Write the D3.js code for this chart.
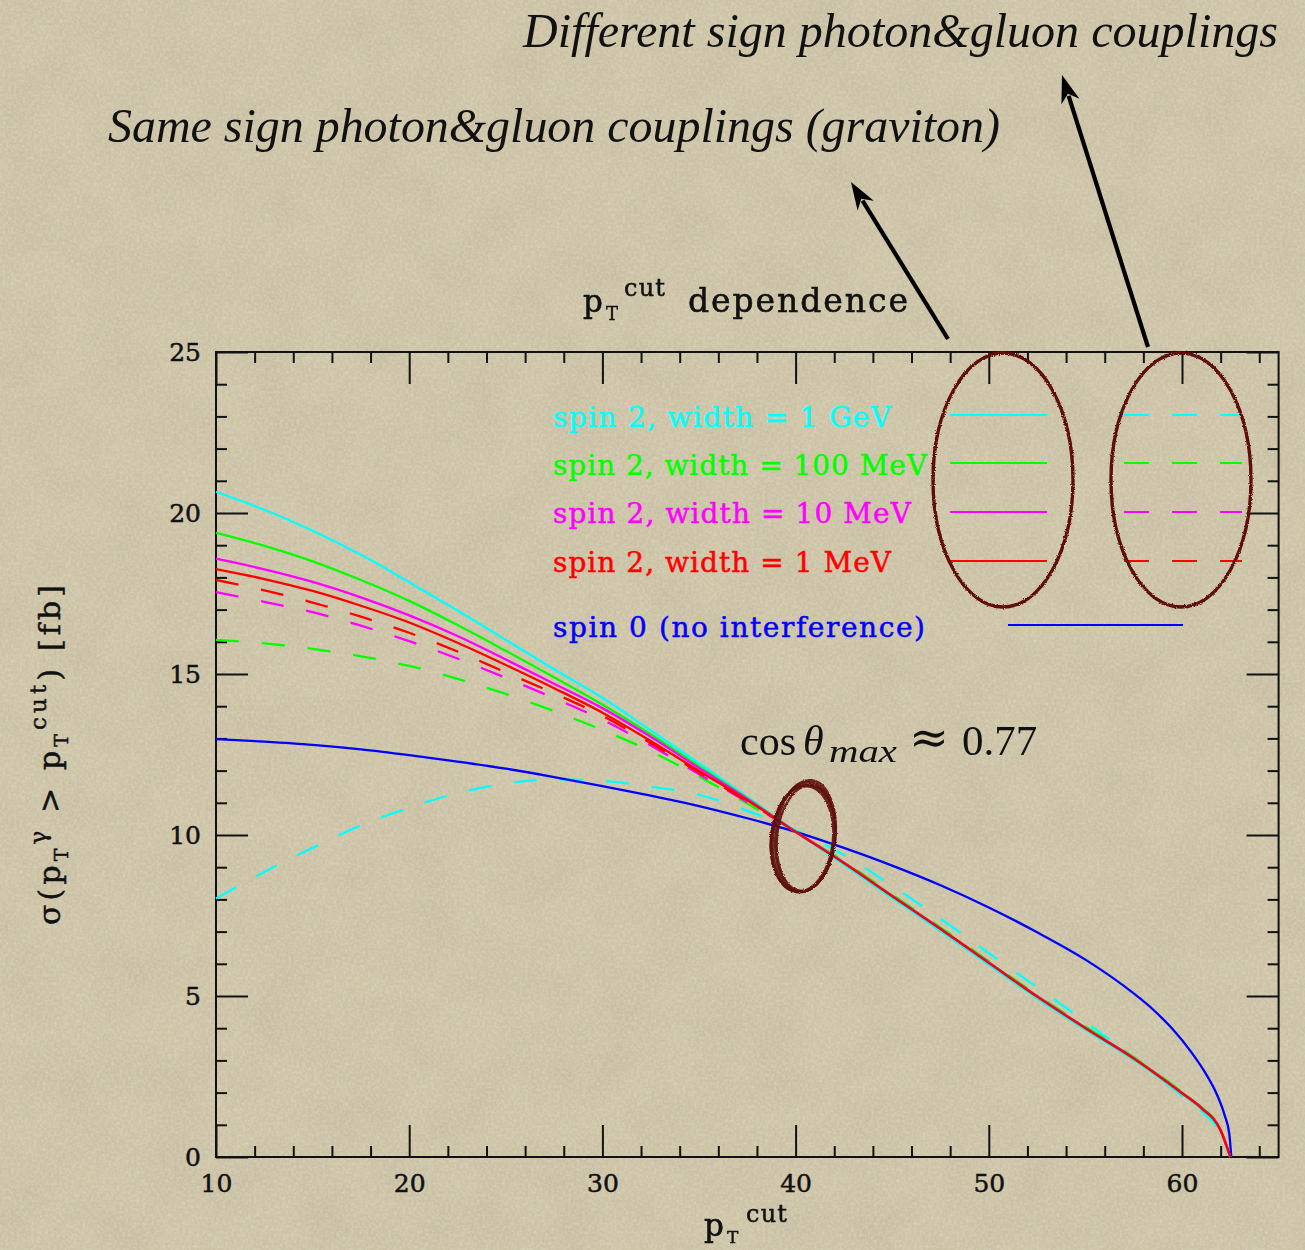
<!DOCTYPE html>
<html>
<head>
<meta charset="utf-8">
<script src="https://cdn.jsdelivr.net/npm/d3@7"></script>
<style>
  html, body { margin: 0; padding: 0; background: #cdc5a8; }
  svg { display: block; }
</style>
</head>
<body>
<svg id="chart" width="1305" height="1250"></svg>
<script>
// ---- data -------------------------------------------------------------
// p_T^cut grid (GeV) for the spin-2 curves
const ptCut = [10, 12.5, 15, 17.5, 20, 22.5, 25, 27.5, 30, 32.5, 35, 37.5, 40,
               42.5, 45, 47.5, 50, 52.5, 55, 57.5, 60, 61, 62, 62.5];

// same-sign photon & gluon couplings (solid lines), sigma in fb
const sameW1GeV   = [20.66, 20.1, 19.45, 18.7, 17.85, 16.97, 16.06, 15.15, 14.26, 13.25, 12.23, 11.18, 10.1,
                     9.08, 8.04, 7.02, 5.97, 4.93, 3.95, 3.02, 1.95, 1.49, 0.8, 0];
const sameW100MeV = [19.38, 18.98, 18.5, 17.92, 17.27, 16.52, 15.72, 14.9, 14.05, 13.13, 12.14, 11.14, 10.1,
                     9.15, 8.12, 7.1, 6.05, 5.0, 4.02, 3.08, 2.0, 1.54, 0.84, 0];
const sameW10MeV  = [18.58, 18.25, 17.86, 17.38, 16.82, 16.18, 15.45, 14.7, 13.94, 13.05, 12.08, 11.12, 10.1,
                     9.14, 8.11, 7.09, 6.04, 4.99, 4.01, 3.07, 1.99, 1.53, 0.83, 0];
const sameW1MeV   = [18.26, 17.95, 17.58, 17.12, 16.6, 15.97, 15.28, 14.56, 13.8, 12.92, 11.99, 11.08, 10.1,
                     9.13, 8.1, 7.08, 6.03, 4.98, 4.0, 3.06, 1.98, 1.52, 0.82, 0];

// different-sign couplings (dashed lines)
const diffW1GeV   = [8.03, 8.85, 9.6, 10.3, 10.85, 11.3, 11.6, 11.73, 11.68, 11.5, 11.25, 10.75, 10.15,
                     9.38, 8.42, 7.4, 6.33, 5.27, 4.2, 3.08, 1.9, 1.42, 0.72, 0];
const diffW100MeV = [16.06, 15.95, 15.78, 15.55, 15.25, 14.85, 14.38, 13.85, 13.26, 12.6, 11.82, 10.98, 10.1,
                     9.18, 8.15, 7.13, 6.08, 5.03, 4.05, 3.1, 2.02, 1.55, 0.85, 0];
const diffW10MeV  = [17.54, 17.24, 16.92, 16.5, 16.02, 15.48, 14.88, 14.25, 13.58, 12.78, 11.89, 11.02, 10.1,
                     9.13, 8.1, 7.08, 6.03, 4.98, 4.0, 3.06, 1.98, 1.52, 0.82, 0];
const diffW1MeV   = [17.92, 17.6, 17.22, 16.78, 16.28, 15.7, 15.05, 14.4, 13.7, 12.85, 11.94, 11.04, 10.1,
                     9.13, 8.1, 7.08, 6.03, 4.98, 4.0, 3.06, 1.98, 1.52, 0.82, 0];

// spin 0, no interference
const ptCutSpin0 = [10, 12.5, 15, 17.5, 20, 22.5, 25, 27.5, 30, 32.5, 35, 37.5, 40,
                    42.5, 45, 47.5, 50, 52.5, 55, 57.5, 58.5, 59.5, 60.5, 61.2, 61.8, 62.2, 62.45, 62.55];
const spin0      = [12.98, 12.9, 12.8, 12.66, 12.48, 12.28, 12.06, 11.8, 11.52, 11.22, 10.9, 10.52, 10.1,
                    9.6, 9.05, 8.44, 7.75, 6.98, 6.13, 5.08, 4.58, 3.98, 3.24, 2.62, 1.95, 1.31, 0.71, 0];

// axis ticks
const xMajorTicks = [10, 20, 30, 40, 50, 60];
const xMinorTicks = d3.range(12, 65, 2).filter(v => v % 10 !== 0);
const yMajorTicks = [0, 5, 10, 15, 20, 25];
const yMinorTicks = d3.range(1, 25, 1).filter(v => v % 5 !== 0);

// legend
const legendLabels = ["spin 2, width = 1 GeV", "spin 2, width = 100 MeV",
                      "spin 2, width = 10 MeV", "spin 2, width = 1 MeV",
                      "spin 0 (no interference)"];
const legendColors = ["#00ffff", "#00ff00", "#ff00ff", "#ff0000", "#0000ff"];

// ---- layout -----------------------------------------------------------
const svg = d3.select("#chart");
const W = 1305, H = 1250;
const x = d3.scaleLinear([10, 65], [216, 1278.6]);
const y = d3.scaleLinear([0, 25], [1157, 352]);
const serif = "'DejaVu Serif', 'Liberation Serif', serif";
const ink = "#111";
const inkRed = "#5e0f0b";

// ---- defs: paper texture and rough pen ---------------------------------
const defs = svg.append("defs");
const paper = defs.append("filter").attr("id", "paper")
  .attr("x", 0).attr("y", 0).attr("width", "100%").attr("height", "100%");
paper.append("feTurbulence").attr("type", "fractalNoise")
  .attr("baseFrequency", "0.02").attr("numOctaves", 3).attr("seed", 7);
paper.append("feColorMatrix").attr("type", "matrix")
  .attr("values", "0 0 0 0 0.45  0 0 0 0 0.40  0 0 0 0 0.28  0.45 0 0 0 -0.17");
const grain = defs.append("filter").attr("id", "grain")
  .attr("x", 0).attr("y", 0).attr("width", "100%").attr("height", "100%");
grain.append("feTurbulence").attr("type", "fractalNoise")
  .attr("baseFrequency", "0.35").attr("numOctaves", 2).attr("seed", 3);
grain.append("feColorMatrix").attr("type", "matrix")
  .attr("values", "0 0 0 0 0.93  0 0 0 0 0.90  0 0 0 0 0.80  0.5 0 0 0 -0.18");
const rough = defs.append("filter").attr("id", "rough")
  .attr("x", "-10%").attr("y", "-10%").attr("width", "120%").attr("height", "120%");
rough.append("feTurbulence").attr("type", "fractalNoise")
  .attr("baseFrequency", "0.9").attr("numOctaves", 1).attr("seed", 11).attr("result", "n");
rough.append("feDisplacementMap").attr("in", "SourceGraphic").attr("in2", "n")
  .attr("scale", 3).attr("xChannelSelector", "R").attr("yChannelSelector", "G");

svg.append("rect").attr("width", W).attr("height", H).attr("fill", "#cdc4a7");
svg.append("rect").attr("width", W).attr("height", H).attr("filter", "url(#paper)");
svg.append("rect").attr("width", W).attr("height", H).attr("filter", "url(#grain)");

// ---- axes ---------------------------------------------------------------
function styleAxis(g) {
  g.select(".domain").remove();
  g.selectAll(".tick line").attr("stroke", ink).attr("stroke-width", 2);
  g.selectAll(".tick text").attr("fill", ink).attr("stroke", ink).attr("stroke-width", 0.5)
    .style("font-family", serif).style("font-size", "25px");
}
const noLabel = () => "";

svg.append("g").attr("transform", `translate(0,${y(0)})`)
  .call(d3.axisBottom(x).tickValues(xMajorTicks).tickSize(-32).tickPadding(17).tickFormat(d3.format("d")))
  .call(styleAxis);
svg.append("g").attr("transform", `translate(0,${y(0)})`)
  .call(d3.axisBottom(x).tickValues(xMinorTicks).tickSize(-11).tickFormat(noLabel))
  .call(styleAxis);
svg.append("g").attr("transform", `translate(0,${y(25)})`)
  .call(d3.axisTop(x).tickValues(xMajorTicks).tickSize(-32).tickFormat(noLabel))
  .call(styleAxis);
svg.append("g").attr("transform", `translate(0,${y(25)})`)
  .call(d3.axisTop(x).tickValues(xMinorTicks).tickSize(-11).tickFormat(noLabel))
  .call(styleAxis);
svg.append("g").attr("transform", `translate(${x(10)},0)`)
  .call(d3.axisLeft(y).tickValues(yMajorTicks).tickSize(-32).tickPadding(15).tickFormat(d3.format("d")))
  .call(styleAxis);
svg.append("g").attr("transform", `translate(${x(10)},0)`)
  .call(d3.axisLeft(y).tickValues(yMinorTicks).tickSize(-11).tickFormat(noLabel))
  .call(styleAxis);
svg.append("g").attr("transform", `translate(${x(65)},0)`)
  .call(d3.axisRight(y).tickValues(yMajorTicks).tickSize(-32).tickFormat(noLabel))
  .call(styleAxis);
svg.append("g").attr("transform", `translate(${x(65)},0)`)
  .call(d3.axisRight(y).tickValues(yMinorTicks).tickSize(-11).tickFormat(noLabel))
  .call(styleAxis);

svg.append("rect")
  .attr("x", x(10)).attr("y", y(25))
  .attr("width", x(65) - x(10)).attr("height", y(0) - y(25))
  .attr("fill", "none").attr("stroke", ink).attr("stroke-width", 2);

// ---- curves ---------------------------------------------------------------
const series = [
  { xs: ptCut, ys: diffW1GeV,   color: legendColors[0], dashed: true },
  { xs: ptCut, ys: diffW100MeV, color: legendColors[1], dashed: true },
  { xs: ptCut, ys: diffW10MeV,  color: legendColors[2], dashed: true },
  { xs: ptCut, ys: diffW1MeV,   color: legendColors[3], dashed: true },
  { xs: ptCutSpin0, ys: spin0,  color: legendColors[4], dashed: false },
  { xs: ptCut, ys: sameW1GeV,   color: legendColors[0], dashed: false },
  { xs: ptCut, ys: sameW100MeV, color: legendColors[1], dashed: false },
  { xs: ptCut, ys: sameW10MeV,  color: legendColors[2], dashed: false },
  { xs: ptCut, ys: sameW1MeV,   color: legendColors[3], dashed: false }
];
const line = d3.line().x(d => x(d[0])).y(d => y(d[1])).curve(d3.curveMonotoneX);
svg.append("g").selectAll("path").data(series).join("path")
  .attr("d", s => line(s.xs.map((v, i) => [v, s.ys[i]])))
  .attr("fill", "none")
  .attr("stroke", s => s.color)
  .attr("stroke-width", 2.3)
  .attr("stroke-dasharray", s => s.dashed ? "23,23" : null);

// ---- legend -------------------------------------------------------------
const legendBaselines = [427, 475, 523, 572, 637];
const legendWidths = [338, 374, 358, 338, 372];
svg.append("g").selectAll("text").data(legendLabels).join("text")
  .attr("x", 553).attr("y", (d, i) => legendBaselines[i])
  .attr("fill", (d, i) => legendColors[i])
  .attr("stroke", (d, i) => legendColors[i]).attr("stroke-width", 0.5)
  .attr("textLength", (d, i) => legendWidths[i]).attr("lengthAdjust", "spacing")
  .style("font-family", serif).style("font-size", "28px")
  .text(d => d);

const sampleRows = [415, 463, 512, 561];
const samples = svg.append("g");
sampleRows.forEach((ry, i) => {
  samples.append("line").attr("x1", 950).attr("x2", 1047).attr("y1", ry).attr("y2", ry)
    .attr("stroke", legendColors[i]).attr("stroke-width", 2.2);
  samples.append("line").attr("x1", 1124).attr("x2", 1242).attr("y1", ry).attr("y2", ry)
    .attr("stroke", legendColors[i]).attr("stroke-width", 2.2).attr("stroke-dasharray", "25,23");
});
samples.append("line").attr("x1", 1008).attr("x2", 1183).attr("y1", 625).attr("y2", 625)
  .attr("stroke", legendColors[4]).attr("stroke-width", 2.2);

// hand-drawn ellipses around the two legend columns
const pen = svg.append("g").attr("filter", "url(#rough)");
[[1003, 480], [1181, 480]].forEach(([cx, cy]) => {
  pen.append("ellipse").attr("cx", cx).attr("cy", cy).attr("rx", 70).attr("ry", 127)
    .attr("fill", "none").attr("stroke", inkRed).attr("stroke-width", 3.4);
});
// circled crossing point
[[0, 0, 31, 55], [1.5, -1, 30, 56], [-1, 1.5, 32, 54], [2, 1, 29, 53], [-2, 2, 31, 53]].forEach(([dx, dy, rx, ry]) => {
  pen.append("ellipse").attr("cx", 804 + dx).attr("cy", 837 + dy).attr("rx", rx).attr("ry", ry)
    .attr("transform", `rotate(6,${804 + dx},${837 + dy})`)
    .attr("fill", "none").attr("stroke", inkRed).attr("stroke-width", 2.4).attr("opacity", 0.9);
});

// ---- titles and labels ---------------------------------------------------
function put(txt, px, py, size, opts = {}) {
  const t = svg.append("text").attr("x", px).attr("y", py)
    .attr("fill", opts.fill || ink)
    .style("font-family", opts.family || serif)
    .style("font-size", size + "px")
    .style("font-style", opts.italic ? "italic" : "normal")
    .text(txt);
  if (opts.bold) t.attr("stroke", opts.fill || ink).attr("stroke-width", opts.bold);
  if (opts.len) t.attr("textLength", opts.len).attr("lengthAdjust", opts.adjust || "spacing");
  return t;
}

// plot title
put("p", 583, 312, 31, { bold: 0.6 });
put("T", 606, 320, 18, { bold: 0.4 });
put("cut", 624, 296, 24, { len: 41, bold: 0.5 });
put("dependence", 688, 312, 33, { len: 220, bold: 0.6 });

// x axis title
put("p", 704, 1236, 31, { bold: 0.6 });
put("T", 727, 1243, 17, { bold: 0.4 });
put("cut", 746, 1222, 24, { len: 41, bold: 0.5 });

// y axis title
const yt = svg.append("text")
  .attr("transform", "translate(60,925) rotate(-90)")
  .attr("fill", ink).attr("stroke", ink).attr("stroke-width", 0.5)
  .style("font-family", serif).style("font-size", "30px")
  .attr("textLength", 340).attr("lengthAdjust", "spacing");
yt.append("tspan").text("σ(p");
yt.append("tspan").attr("dy", 8).style("font-size", "19px").text("T");
yt.append("tspan").attr("dy", -22).style("font-size", "23px").text("γ");
yt.append("tspan").attr("dy", 14).text(" > p");
yt.append("tspan").attr("dy", 8).style("font-size", "19px").text("T");
yt.append("tspan").attr("dy", -22).style("font-size", "23px").text("cut");
yt.append("tspan").attr("dy", 14).text(") [fb]");

// crossing annotation
const latex = "'Liberation Serif', 'DejaVu Serif', serif";
put("cos", 740, 755, 42, { family: latex });
put("θ", 803, 755, 42, { family: latex, italic: true });
put("max", 829, 762, 31, { family: latex, italic: true, len: 68, adjust: "spacingAndGlyphs" });
put("≈", 909, 753, 46, { family: serif, len: 40, adjust: "spacingAndGlyphs" });
put("0.77", 962, 755, 43, { family: latex });

// coupling annotations
put("Different sign photon&gluon couplings", 523, 47, 48,
    { family: latex, italic: true, len: 755, adjust: "spacingAndGlyphs" });
put("Same sign photon&gluon couplings (graviton)", 108, 142, 48,
    { family: latex, italic: true, len: 892, adjust: "spacingAndGlyphs" });

// arrows
function arrow(x1, y1, x2, y2) {
  const a = Math.atan2(y2 - y1, x2 - x1);
  const L = 28, hw = 9.5;
  const bx = x2 - L * Math.cos(a), by = y2 - L * Math.sin(a);
  svg.append("line").attr("x1", x1).attr("y1", y1)
    .attr("x2", bx + 6 * Math.cos(a)).attr("y2", by + 6 * Math.sin(a))
    .attr("stroke", "#000").attr("stroke-width", 4.2);
  const p = [[x2, y2],
             [bx + hw * Math.sin(a), by - hw * Math.cos(a)],
             [bx + 0.3 * L * Math.cos(a), by + 0.3 * L * Math.sin(a)],
             [bx - hw * Math.sin(a), by + hw * Math.cos(a)]];
  svg.append("polygon").attr("points", p.map(q => q.join(",")).join(" ")).attr("fill", "#000");
}
arrow(948, 339, 851, 182);
arrow(1148, 347, 1062, 75);
</script>
</body>
</html>
